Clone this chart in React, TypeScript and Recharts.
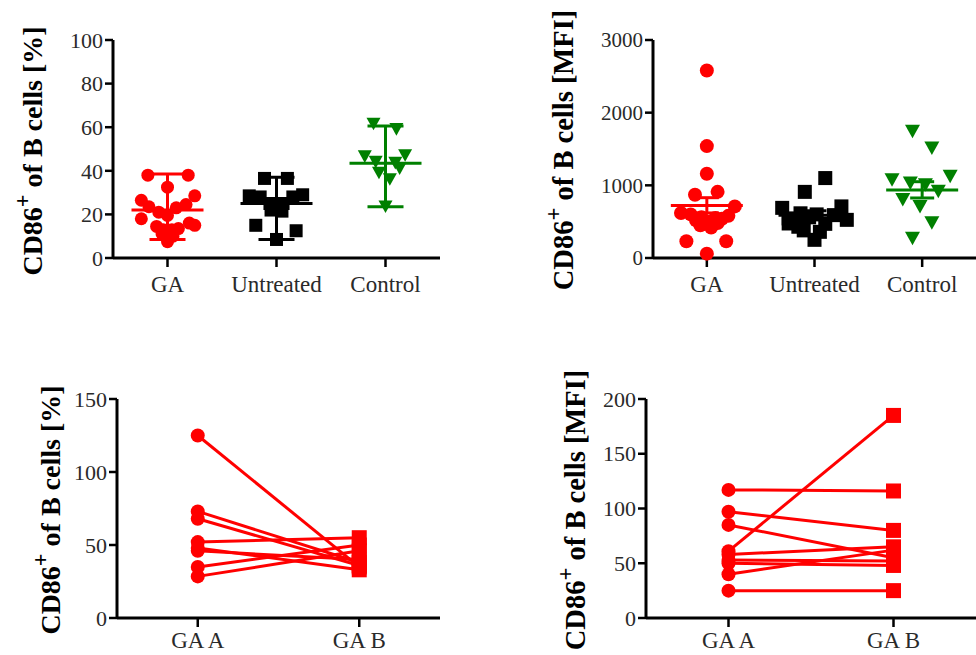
import React from 'react'
import { ScatterChart, Scatter, LineChart, Line, XAxis, YAxis, ErrorBar } from 'recharts'

const FONT = '"Liberation Serif", "Times New Roman", serif'
const RED = '#ff0000'
const GREEN = '#008000'
const BLACK = '#000000'

const groups = ['GA', 'Untreated', 'Control']
const pairLabels = ['GA A', 'GA B']

// CD86+ of B cells [%]
const pctGA = [38, 38, 32.5, 26.5, 28.5, 23.5, 21, 23, 24.5, 19.5, 18, 15, 14.5, 13, 13.5, 13, 16, 11, 10, 7.5]
const pctGAJit = [-0.18, 0.19, 0, -0.24, 0.25, -0.17, -0.08, 0.08, 0.17, 0, -0.24, 0.25, -0.1, -0.04, 0.1, 0.04, 0.2, -0.05, 0.05, 0]
const pctUnt = [36.5, 36.5, 28.5, 28, 28, 29, 25, 25, 22, 21.5, 15, 12.5, 8.5, 23.5]
const pctUntJit = [-0.11, 0.1, -0.25, -0.15, 0.15, 0.24, -0.06, 0.06, -0.05, 0.05, -0.19, 0.18, 0, 0]
const pctCtl = [61.5, 59, 46.5, 47, 44, 43.5, 39, 36, 41, 23.5]
const pctCtlJit = [-0.11, 0.1, -0.19, 0.18, -0.09, 0.09, -0.06, 0.04, 0.13, 0]
const pctCenter = [22, 25, 43.5]
const pctLow = [8.5, 8.5, 23.5]
const pctHigh = [38.5, 37, 60.5]

// CD86+ of B cells [MFI]
const mfiGA = [2580, 1540, 1160, 870, 910, 710, 620, 600, 580, 560, 550, 540, 520, 500, 480, 450, 420, 230, 230, 60]
const mfiGAJit = [0, 0, 0, -0.11, 0.1, 0.26, -0.24, -0.15, 0.2, -0.05, 0.08, 0.14, -0.1, 0.02, 0.1, -0.06, 0.04, -0.19, 0.18, 0]
const mfiUnt = [1100, 910, 690, 710, 615, 590, 545, 525, 475, 430, 470, 360, 380, 250, 600, 560]
const mfiUntJit = [0.1, -0.09, -0.3, 0.25, -0.13, 0.18, -0.24, 0.3, -0.24, -0.15, 0.1, 0.05, -0.1, 0, 0.02, -0.05]
const mfiCtl = [1740, 1510, 1075, 1120, 1030, 1005, 915, 800, 705, 480, 270]
const mfiCtlJit = [-0.09, 0.09, -0.28, 0.26, -0.11, 0.03, 0.15, -0.18, -0.02, 0.09, -0.09]
const mfiCenter = [724, 590, 936]
const mfiLow = [620, 530, 826]
const mfiHigh = [830, 650, 1050]

// paired samples
const pairPctA = [125, 73, 68, 52, 48, 46, 35, 28.5]
const pairPctB = [35, 38, 36, 55, 33, 40, 50, 46]
const pairMfiA = [117, 97, 85, 61, 58, 53, 50, 40, 25]
const pairMfiB = [116, 80, 55, 185, 65, 52, 48, 62, 25]

const pts = (group: number, vals: number[], jit: number[]) =>
  vals.map((y, i) => ({ x: group + jit[i], y }))

const summary = (center: number[], low: number[], high: number[], colors: string[]) =>
  center.map((c, i) => ({ x: i + 1, y: c, err: [c - low[i], high[i] - c], color: colors[i] }))

const circle = (r: number, color: string) => (p: any) => <circle cx={p.cx} cy={p.cy} r={r} fill={color} />
const square = (s: number, color: string) => (p: any) => (
  <rect x={p.cx - s / 2} y={p.cy - s / 2} width={s} height={s} fill={color} />
)
const triangle = (w: number, color: string) => (p: any) => {
  const h = w * 0.9
  return <polygon points={`${p.cx - w / 2},${p.cy - h / 2} ${p.cx + w / 2},${p.cy - h / 2} ${p.cx},${p.cy + h / 2}`} fill={color} />
}
const meanLine = (half: number) => (p: any) => (
  <line x1={p.cx - half} x2={p.cx + half} y1={p.cy} y2={p.cy} stroke={p.payload.color} strokeWidth={3} />
)

const XTick = (labels: string[]) => (p: any) => (
  <text x={p.x} y={p.y} dy="0.71em" textAnchor="middle" fontFamily={FONT} fontSize={23} fill="#2a2a2a">
    {labels[p.payload.value - 1]}
  </text>
)
const YTick = (size: number) => (p: any) => (
  <text x={p.x} y={p.y} dy="0.35em" textAnchor="end" fontFamily={FONT} fontSize={size} fill="#2a2a2a">
    {p.payload.value}
  </text>
)

const axisLine = { stroke: BLACK, strokeWidth: 3 }
const tickLine = { stroke: BLACK, strokeWidth: 2.5 }

const groupColors = [RED, BLACK, GREEN]

const DotPlot = ({ left, yWidth, ticks, data, sum, capHalf, dotSize, tickSize }: any) => (
  <div style={{ position: 'absolute', left, top: 0 }}>
    <ScatterChart width={left === 0 ? 440 : 456} height={300} margin={{ top: 40, right: 0, bottom: 2, left: 0 }}>
      <XAxis type="number" dataKey="x" domain={[0.5, 3.5]} ticks={[1, 2, 3]} interval={0}
        height={40} tickSize={9} tickMargin={9}
        axisLine={axisLine} tickLine={tickLine} tick={XTick(groups)} />
      <YAxis type="number" dataKey="y" domain={[ticks[0], ticks[ticks.length - 1]]} ticks={ticks} interval={0}
        width={yWidth} tickSize={8} tickMargin={2} axisLine={axisLine} tickLine={tickLine} tick={YTick(tickSize)} />
      <Scatter data={data[0]} shape={circle(dotSize / 2, RED)} isAnimationActive={false} />
      <Scatter data={data[1]} shape={square(dotSize, BLACK)} isAnimationActive={false} />
      <Scatter data={data[2]} shape={triangle(dotSize + 1, GREEN)} isAnimationActive={false} />
      {sum.map((s: any, i: number) => (
        <Scatter key={i} data={[s]} shape={meanLine(36)} isAnimationActive={false}>
          <ErrorBar dataKey="err" direction="y" width={capHalf} stroke={s.color} strokeWidth={3} />
        </Scatter>
      ))}
    </ScatterChart>
  </div>
)

const pairDot = (p: any) =>
  p.index === 0
    ? <circle key={p.key} cx={p.cx} cy={p.cy} r={7} fill={RED} />
    : <rect key={p.key} x={p.cx - 7.5} y={p.cy - 7.5} width={15} height={15} fill={RED} />

const PairPlot = ({ left, yWidth, ticks, a, b }: any) => {
  const rows = [1, 2].map((x, k) => {
    const row: any = { x }
    a.forEach((v: number, i: number) => { row['s' + i] = k === 0 ? v : b[i] })
    return row
  })
  return (
    <div style={{ position: 'absolute', left, top: 360 }}>
      <LineChart width={left === 0 ? 440 : 456} height={295} data={rows} margin={{ top: 39, right: 0, bottom: 2, left: 0 }}>
        <XAxis type="number" dataKey="x" domain={[0.5, 2.5]} ticks={[1, 2]} interval={0}
          height={35} tickSize={9} tickMargin={5}
          axisLine={axisLine} tickLine={tickLine} tick={XTick(pairLabels)} />
        <YAxis type="number" domain={[ticks[0], ticks[ticks.length - 1]]} ticks={ticks} interval={0}
          width={yWidth} tickSize={8} tickMargin={2} axisLine={axisLine} tickLine={tickLine} tick={YTick(22)} />
        {a.map((_: number, i: number) => (
          <Line key={i} dataKey={'s' + i} stroke={RED} strokeWidth={3} dot={pairDot} activeDot={false}
            isAnimationActive={false} />
        ))}
      </LineChart>
    </div>
  )
}

const YLabel = ({ x, y, size, unit }: any) => (
  <text transform={`translate(${x},${y}) rotate(-90)`} textAnchor="middle" fontFamily={FONT}
    fontWeight="bold" fontSize={size} fill={BLACK}>
    CD86<tspan baselineShift="super" fontSize={size * 0.8}>+</tspan> of B cells [{unit}]
  </text>
)

export default function App() {
  return (
    <div style={{ position: 'absolute', left: 0, top: 0, width: 976, height: 655, background: '#fff', overflow: 'hidden' }}>
      <DotPlot left={0} yWidth={113} ticks={[0, 20, 40, 60, 80, 100]} tickSize={22} capHalf={18} dotSize={13}
        data={[pts(1, pctGA, pctGAJit), pts(2, pctUnt, pctUntJit), pts(3, pctCtl, pctCtlJit)]}
        sum={summary(pctCenter, pctLow, pctHigh, groupColors)} />
      <DotPlot left={520} yWidth={133} ticks={[0, 1000, 2000, 3000]} tickSize={21} capHalf={12} dotSize={14}
        data={[pts(1, mfiGA, mfiGAJit), pts(2, mfiUnt, mfiUntJit), pts(3, mfiCtl, mfiCtlJit)]}
        sum={summary(mfiCenter, mfiLow, mfiHigh, groupColors)} />
      <PairPlot left={0} yWidth={117} ticks={[0, 50, 100, 150]} a={pairPctA} b={pairPctB} />
      <PairPlot left={520} yWidth={126} ticks={[0, 50, 100, 150, 200]} a={pairMfiA} b={pairMfiB} />
      <svg width={976} height={655} style={{ position: 'absolute', left: 0, top: 0, pointerEvents: 'none' }}>
        <YLabel x={42} y={151} size={28} unit="%" />
        <YLabel x={573} y={150} size={28.5} unit="MFI" />
        <YLabel x={60} y={510} size={28} unit="%" />
        <YLabel x={585} y={510} size={28.5} unit="MFI" />
      </svg>
    </div>
  )
}
